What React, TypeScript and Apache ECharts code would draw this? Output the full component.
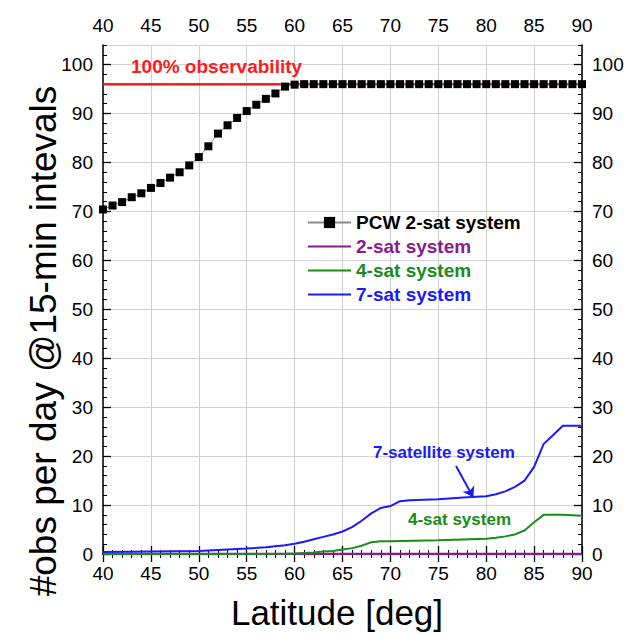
import React, { useEffect, useRef } from "react";
import * as echarts from "echarts";

const FONT = '"Liberation Sans", Arial, Helvetica, sans-serif';

// PCW 2-satellite system (markers every degree)
const pcwLat = [
  40, 41, 42, 43, 44, 45, 46, 47, 48, 49, 50, 51, 52, 53, 54, 55, 56, 57, 58, 59, 60,
  61, 62, 63, 64, 65, 66, 67, 68, 69, 70, 71, 72, 73, 74, 75, 76, 77, 78, 79, 80,
  81, 82, 83, 84, 85, 86, 87, 88, 89, 90,
];
const pcwObs = [
  70.4, 71.2, 71.9, 72.9, 73.7, 74.8, 75.8, 76.9, 78.0, 79.4, 81.1, 83.3, 85.9, 87.6, 89.1, 90.5, 91.8, 93.0, 94.1, 95.5, 95.9,
  96, 96, 96, 96, 96, 96, 96, 96, 96, 96, 96, 96, 96, 96, 96, 96, 96, 96, 96, 96,
  96, 96, 96, 96, 96, 96, 96, 96, 96, 96,
];

// 2-sat system
const twoSatLat = [40, 90];
const twoSatObs = [0, 0];

// 4-sat system
const fourSatLat = [40, 55, 59, 60, 62, 63, 64, 65, 66, 67, 68, 69, 70, 75, 80, 81, 82, 83, 84, 85, 86, 88, 90];
const fourSatObs = [0, 0, 0.05, 0.1, 0.3, 0.5, 0.6, 0.9, 1.2, 1.7, 2.4, 2.6, 2.6, 2.8, 3.1, 3.3, 3.6, 4.0, 4.8, 6.5, 8.0, 8.0, 7.8];

// 7-sat system
const sevenSatLat = [40, 45, 50, 52, 55, 57, 59, 60, 61, 62, 63, 64, 65, 66, 67, 68, 69, 70, 71, 72, 75, 78, 80, 81, 82, 83, 84, 85, 86, 87, 88, 89, 90];
const sevenSatObs = [0.4, 0.5, 0.6, 0.8, 1.1, 1.4, 1.8, 2.1, 2.5, 3.0, 3.5, 4.0, 4.6, 5.5, 6.8, 8.3, 9.4, 9.8, 10.8, 11.0, 11.2, 11.6, 11.8, 12.2, 12.8, 13.7, 15.0, 17.8, 22.5, 24.3, 26.2, 26.2, 26.2];

// 100% observability reference (96 obs/day at 15-min intervals)
const fullLat = [40, 90];
const fullObs = [96, 96];

// arrow annotation (start, end) in data coordinates
const arrowStart = [76.85, 17.96];
const arrowEnd = [78.65, 11.57];

const legendNames = ["PCW 2-sat system", "2-sat system", "4-sat system", "7-sat system"];
const legendColors = ["#000000", "#8b1a8b", "#1a8c1a", "#1a1aff"];

const xTitle = "Latitude [deg]";
const yTitle = "#obs per day @15-min intevals";

const zip = (xs: number[], ys: number[]) => xs.map((x, i) => [x, ys[i]]);

export default function App() {
  const ref = useRef<HTMLDivElement>(null);

  useEffect(() => {
    if (!ref.current) return;
    const chart = echarts.init(ref.current, null, { renderer: "svg" });

    const tickLabel = { fontSize: 19, color: "#000", fontFamily: FONT };
    const axisLine = { show: true, lineStyle: { color: "#000", width: 1.5 } };
    const majorTick = { show: true, inside: true, length: 8, lineStyle: { color: "#000", width: 1.3 } };
    const minorTickX = { show: true, splitNumber: 5, length: 4, lineStyle: { color: "#000", width: 1 } };
    const grid = { show: true, lineStyle: { color: "#d2d2d2", width: 1 } };

    const xBase = { type: "value", min: 40, max: 90, interval: 5 };
    const yBase = { type: "value", min: 0, max: 104, interval: 10 };
    const lineIcon = "path://M0,0H43V2H0Z";

    chart.setOption({
      animation: false,
      backgroundColor: "#fff",
      textStyle: { fontFamily: FONT },
      grid: { left: 103, right: 55, top: 45, bottom: 81, containLabel: false },
      legend: {
        orient: "vertical",
        left: 302,
        top: 208,
        itemWidth: 43,
        itemHeight: 14,
        itemGap: 5,
        data: legendNames.map((n, i) => ({
          name: n,
          ...(i > 0 ? { icon: lineIcon } : {}),
          textStyle: { color: legendColors[i], fontWeight: "bold", fontSize: 19, fontFamily: FONT },
        })),
      },
      xAxis: [
        {
          ...xBase,
          position: "bottom",
          axisLine,
          axisTick: majorTick,
          minorTick: minorTickX,
          splitLine: grid,
          axisLabel: { ...tickLabel, margin: 10 },
        },
        {
          ...xBase,
          position: "top",
          axisLine,
          axisTick: majorTick,
          minorTick: minorTickX,
          splitLine: { show: false },
          axisLabel: { ...tickLabel, margin: 10 },
        },
      ],
      yAxis: [
        {
          ...yBase,
          position: "left",
          axisLine,
          axisTick: majorTick,
          splitLine: grid,
          axisLabel: { ...tickLabel, margin: 10, showMaxLabel: false },
        },
        {
          ...yBase,
          position: "right",
          axisLine,
          axisTick: majorTick,
          splitLine: { show: false },
          axisLabel: { ...tickLabel, margin: 10, showMaxLabel: false },
        },
        {
          type: "value",
          min: 0,
          max: 104,
          interval: 2,
          position: "left",
          axisLine: { show: false },
          axisTick: { show: true, inside: true, length: 4, lineStyle: { color: "#000", width: 1 } },
          axisLabel: { show: false },
          splitLine: { show: false },
        },
        {
          type: "value",
          min: 0,
          max: 104,
          interval: 2,
          position: "right",
          axisLine: { show: false },
          axisTick: { show: true, inside: true, length: 4, lineStyle: { color: "#000", width: 1 } },
          axisLabel: { show: false },
          splitLine: { show: false },
        },
      ],
      series: [
        {
          name: "100% observability",
          type: "line",
          data: zip(fullLat, fullObs),
          symbol: "none",
          lineStyle: { color: "#ff1a1a", width: 2.5 },
          z: 2,
        },
        {
          name: legendNames[1],
          type: "line",
          data: zip(twoSatLat, twoSatObs),
          symbol: "none",
          itemStyle: { color: legendColors[1] },
          lineStyle: { color: legendColors[1], width: 2.5 },
          z: 3,
        },
        {
          name: legendNames[2],
          type: "line",
          data: zip(fourSatLat, fourSatObs),
          symbol: "none",
          itemStyle: { color: legendColors[2] },
          lineStyle: { color: legendColors[2], width: 2 },
          z: 4,
        },
        {
          name: legendNames[3],
          type: "line",
          data: zip(sevenSatLat, sevenSatObs),
          symbol: "none",
          itemStyle: { color: legendColors[3] },
          lineStyle: { color: legendColors[3], width: 2 },
          z: 5,
          markLine: {
            silent: true,
            symbol: ["none", "arrow"],
            symbolSize: 10,
            label: { show: false },
            lineStyle: { color: legendColors[3], width: 2, type: "solid" },
            data: [[{ coord: arrowStart }, { coord: arrowEnd }]],
          },
        },
        {
          name: legendNames[0],
          type: "line",
          data: zip(pcwLat, pcwObs),
          symbol: "rect",
          symbolSize: 8,
          itemStyle: { color: "#000" },
          lineStyle: { color: "#8a8a8a", width: 1 },
          z: 6,
        },
      ],
      graphic: [
        {
          type: "text",
          left: 131,
          top: 57,
          style: { text: "100% observability", fill: "#ff1a1a", font: `bold 19px ${FONT}` },
          z: 10,
        },
        {
          type: "text",
          left: 373,
          top: 444,
          style: { text: "7-satellite system", fill: "#1a1aff", font: `bold 17px ${FONT}` },
          z: 10,
        },
        {
          type: "text",
          left: 408,
          top: 511,
          style: { text: "4-sat system", fill: "#1a8c1a", font: `bold 17px ${FONT}` },
          z: 10,
        },
        {
          type: "text",
          x: 337,
          y: 612,
          style: {
            text: xTitle,
            fill: "#000",
            font: `35px ${FONT}`,
            align: "center",
            verticalAlign: "middle",
          },
          z: 10,
        },
        {
          type: "text",
          x: 43,
          y: 341,
          rotation: Math.PI / 2,
          style: {
            text: yTitle,
            fill: "#000",
            font: `37px ${FONT}`,
            align: "center",
            verticalAlign: "middle",
          },
          z: 10,
        },
      ],
    });

    return () => chart.dispose();
  }, []);

  return (
    <div
      ref={ref}
      style={{ position: "fixed", left: 0, top: 0, width: 637, height: 635, background: "#fff" }}
    />
  );
}
